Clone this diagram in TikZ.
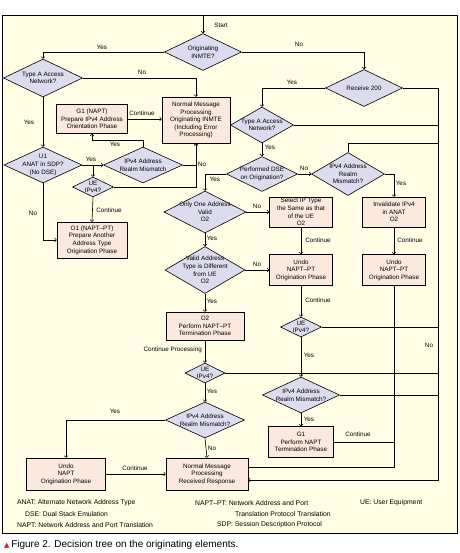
\documentclass[tikz,border=0pt]{standalone}
\usepackage{fontspec}
\setmainfont{Liberation Sans}
\newfontfamily\symbfont{DejaVu Sans}
\usepackage{tikz}
\usetikzlibrary{shapes.geometric}
\definecolor{paper}{HTML}{FFFDE4}
\definecolor{decfill}{HTML}{DCDCEE}
\definecolor{procfill}{HTML}{FCE9DE}
\definecolor{capred}{HTML}{D02020}

\begin{document}
\begin{tikzpicture}
[every node/.style={inner sep=0pt, font=\fontsize{6.3}{7.6}\selectfont},
 every label/.style={align=center},
 dec/.style={diamond, draw=black, fill=decfill, line width=0.6pt},
 proc/.style={rectangle, draw=black, fill=procfill, line width=0.6pt, align=center},
 lbl/.style={align=center},
 legend/.style={anchor=west, font=\fontsize{6.8}{8}\selectfont},
 conn/.style={line width=0.6pt, ->},
 trunkline/.style={line width=0.6pt}]
\useasboundingbox (0pt,0pt) rectangle (459pt,-553pt);
\draw [fill=paper, line width=0.8pt] (2pt,-15pt) rectangle (457pt,-533pt);
\node (1) [dec, minimum width=77pt, minimum height=37pt, label=center:{Originating\\INMTE?}] at (203pt, -52pt) {};
\node (2) [dec, minimum width=79pt, minimum height=38pt, label=center:{Type A Access\\Network?}] at (43pt, -78pt) {};
\node (3) [proc, minimum width=71pt, minimum height=29pt] at (92pt, -119pt) {G1 (NAPT)\\Prepare IPv4 Address\\Orientation Phase};
\node (4) [proc, minimum width=68pt, minimum height=46pt] at (196pt, -120pt) {Normal Message\\Processing\\Originating INMTE\\(Including Error\\Processing)};
\node (5) [dec, minimum width=78pt, minimum height=36pt, label=center:{U1\\ANAT in SDP?\\(No DSE)}] at (43pt, -165pt) {};
\node (6) [dec, minimum width=79pt, minimum height=36pt, label=center:{IPv4 Address\\Realm Mismatch}] at (143pt, -165pt) {};
\node (7) [dec, minimum width=41pt, minimum height=20pt, label=center:{UE\\IPv4?}] at (93pt, -187pt) {};
\node (8) [proc, minimum width=70pt, minimum height=36pt] at (92pt, -240pt) {O1 (NAPT–PT)\\Prepare Another\\Address Type\\Origination Phase};
\node (9) [dec, minimum width=77pt, minimum height=37pt, label=center:{Receive 200}] at (364pt, -88pt) {};
\node (10) [dec, minimum width=63pt, minimum height=36pt, label=center:{Type A Access\\Network?}] at (262pt, -125pt) {};
\node (11) [dec, minimum width=71pt, minimum height=35pt, label=center:{Performed DSE\\on Origination?}] at (262pt, -174pt) {};
\node (12) [dec, minimum width=73pt, minimum height=43pt, label=center:{IPv4 Address\\Realm\\Mismatch?}] at (348pt, -174pt) {};
\node (13) [dec, minimum width=82pt, minimum height=42pt, label=center:{Only One Address\\Valid\\O2}] at (205pt, -212pt) {};
\node (14) [proc, minimum width=63pt, minimum height=30pt] at (301pt, -212pt) {Select IP Type\\the Same as that\\of the UE\\O2};
\node (15) [proc, minimum width=63pt, minimum height=30pt] at (394pt, -212pt) {Invalidate IPv4\\in ANAT\\O2};
\node (16) [dec, minimum width=80pt, minimum height=47pt, label=center:{Valid Address\\Type is Different\\from UE\\O2}] at (205pt, -270pt) {};
\node (17) [proc, minimum width=63pt, minimum height=31pt] at (301pt, -270pt) {Undo\\NAPT–PT\\Origination Phase};
\node (18) [proc, minimum width=63pt, minimum height=31pt] at (394pt, -270pt) {Undo\\NAPT–PT\\Origination Phase};
\node (19) [proc, minimum width=78pt, minimum height=28pt] at (205pt, -326pt) {O2\\Perform NAPT–PT\\Termination Phase};
\node (20) [dec, minimum width=41pt, minimum height=20pt, label=center:{UE\\IPv4?}] at (301pt, -327pt) {};
\node (21) [dec, minimum width=40pt, minimum height=20pt, label=center:{UE\\IPv4?}] at (205pt, -373pt) {};
\node (22) [dec, minimum width=77pt, minimum height=36pt, label=center:{IPv4 Address\\Realm Mismatch?}] at (301pt, -395pt) {};
\node (23) [dec, minimum width=79pt, minimum height=36pt, label=center:{IPv4 Address\\Realm Mismatch?}] at (205pt, -420pt) {};
\node (24) [proc, minimum width=65pt, minimum height=31pt] at (301pt, -442pt) {G1\\Perform NAPT\\Termination Phase};
\node (25) [proc, minimum width=79pt, minimum height=32pt] at (66pt, -474pt) {Undo\\NAPT\\Origination Phase};
\node (26) [proc, minimum width=82pt, minimum height=32pt] at (207pt, -474pt) {Normal Message\\Processing\\Received Response};
% bend points
\coordinate (s) at (203pt, -15pt);
\coordinate (k1) at (92pt, -140pt);
\coordinate (k2) at (93pt, -165pt);
\coordinate (r1) at (438pt, -480pt);
\coordinate (r2) at (438pt, -143pt);
\coordinate (r3) at (394pt, -467pt);
% connectors
\draw [conn] (s) to (1.north);
\draw [conn] (1.west) -| (2.north);
\draw [conn] (1.east) -| (9.north);
\draw [conn] (2.east) -| (4.north);
\draw [conn] (2.south) to (5.north);
\draw [conn] (3.east) to (4.west |- 3.east);
\draw [conn] (6.north) |- (k1) to (3.south);
\draw [conn] (5.east) to (6.west);
\draw [conn] (k2) to (7.north);
\draw [conn] (6.east) -| (4.south);
\draw [conn] (7.east) -| (4.south);
\draw [conn] (7.south) to (8.north);
\draw [conn] (5.south) |- (8.west);
\draw [conn] (9.west) -| (10.north);
\draw [conn] (9.east) -| (r1) to (r1 -| 26.east);
\draw [trunkline] (10.east) to (10.east -| r1);
\draw [conn] (10.south) to (11.north);
\draw [conn] (11.east) to (12.west);
\draw [conn] (11.west) -| (13.north);
\draw [trunkline] (12.north) |- (r2);
\draw [conn] (12.east) -| (15.north);
\draw [conn] (13.east) to (14.west);
\draw [conn] (13.south) to (16.north);
\draw [conn] (14.south) to (17.north);
\draw [conn] (15.south) to (18.north);
\draw [conn] (16.east) to (17.west);
\draw [conn] (16.south) to (19.north);
\draw [conn] (17.south) to (20.north);
\draw [trunkline] (18.south) to (r3) to (r3 -| 26.east);
\draw [conn] (19.south) to (21.north);
\draw [trunkline] (20.east) to (20.east -| r1);
\draw [conn] (20.south) to (22.north);
\draw [trunkline] (21.east) to (21.east -| r1);
\draw [conn] (21.south) to (23.north);
\draw [trunkline] (22.east) to (22.east -| r1);
\draw [conn] (22.south) to (24.north);
\draw [trunkline] (24.east) to (24.east -| r3);
\draw [conn] (23.west) -| (25.north);
\draw [conn] (23.south) to (26.north);
\draw [conn] (25.east) to (26.west);
% connector labels
\node (l0) [lbl] at (221pt, -25pt) {Start};
\node (l1) [lbl] at (102pt, -47pt) {Yes};
\node (l2) [lbl] at (299pt, -44pt) {No};
\node (l3) [lbl] at (142pt, -72pt) {No};
\node (l4) [lbl] at (29pt, -122pt) {Yes};
\node (l5) [lbl] at (142pt, -113pt) {Continue};
\node (l6) [lbl] at (115pt, -144pt) {Yes};
\node (l7) [lbl] at (91pt, -159pt) {Yes};
\node (l8) [lbl] at (202pt, -164pt) {No};
\node (l9) [lbl] at (109pt, -210pt) {Continue};
\node (l10) [lbl] at (33pt, -213pt) {No};
\node (l11) [lbl] at (292pt, -82pt) {Yes};
\node (l12) [lbl] at (270pt, -147pt) {Yes};
\node (l13) [lbl] at (304pt, -168pt) {No};
\node (l14) [lbl] at (215pt, -179pt) {Yes};
\node (l15) [lbl] at (401pt, -183pt) {Yes};
\node (l16) [lbl] at (257pt, -206pt) {No};
\node (l17) [lbl] at (318pt, -240pt) {Continue};
\node (l18) [lbl] at (410pt, -240pt) {Continue};
\node (l19) [lbl] at (212pt, -238pt) {Yes};
\node (l20) [lbl] at (257pt, -264pt) {No};
\node (l21) [lbl] at (212pt, -301pt) {Yes};
\node (l22) [lbl] at (318pt, -300pt) {Continue};
\node (l23) [lbl, anchor=east] at (202pt, -350pt) {Continue Processing};
\node (l24) [lbl] at (309pt, -355pt) {Yes};
\node (l25) [lbl] at (429pt, -345pt) {No};
\node (l26) [lbl] at (212pt, -391pt) {Yes};
\node (l27) [lbl] at (309pt, -419pt) {Yes};
\node (l28) [lbl] at (358pt, -434pt) {Continue};
\node (l29) [lbl] at (115pt, -411pt) {Yes};
\node (l30) [lbl] at (212pt, -448pt) {No};
\node (l31) [lbl] at (135pt, -468pt) {Continue};
% legend
\node (g1) [legend] at (17pt, -503pt) {ANAT: Alternate Network Address Type};
\node (g2) [legend] at (25pt, -514pt) {DSE: Dual Stack Emulation};
\node (g3) [legend] at (17pt, -525pt) {NAPT: Network Address and Port Translation};
\node (g4) [legend] at (195pt, -503pt) {NAPT–PT: Network Address and Port};
\node (g5) [legend] at (235pt, -514pt) {Translation Protocol Translation};
\node (g6) [legend] at (217pt, -525pt) {SDP: Session Description Protocol};
\node (g7) [legend] at (360pt, -503pt) {UE: User Equipment};
% caption
\node (cap) [anchor=west, font=\fontsize{10}{12}\selectfont] at (4pt, -545pt) {{\symbfont\fontsize{7}{8}\selectfont\textcolor{capred}{▲}}\,Figure 2. Decision tree on the originating elements.};
\end{tikzpicture}
\end{document}
